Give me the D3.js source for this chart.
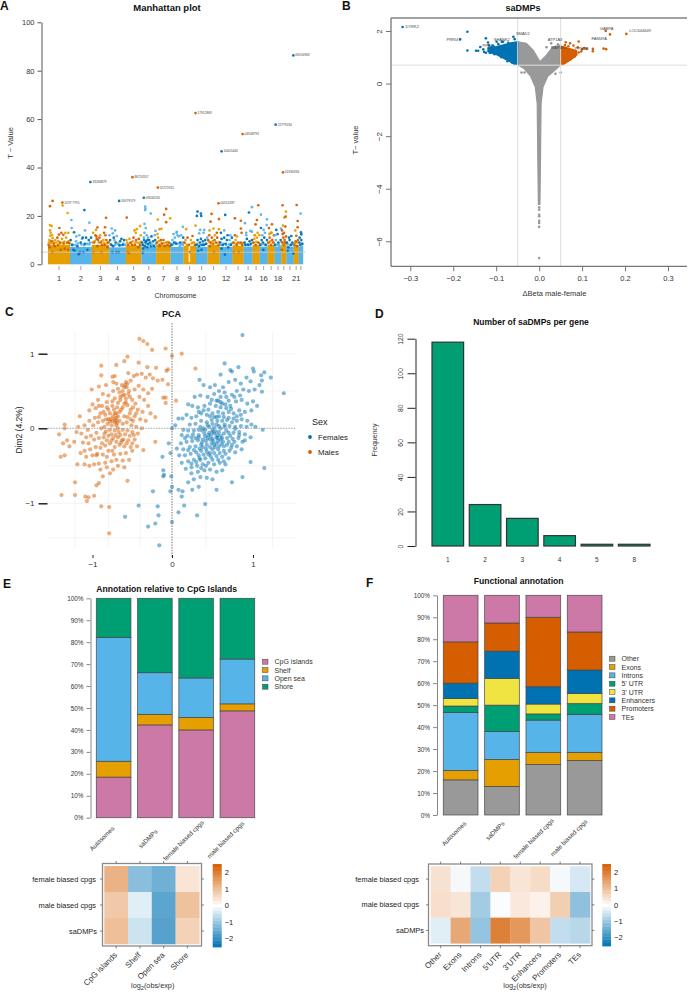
<!DOCTYPE html>
<html><head><meta charset="utf-8">
<script src="https://cdn.jsdelivr.net/npm/d3@7"></script>
<style>html,body{margin:0;background:#fff}svg{display:block}text{font-family:"Liberation Sans",Arial,sans-serif;fill:#222}</style>
</head><body><svg id="c" width="688" height="993"></svg>
<script>
// ---------- A: Manhattan ----------
const chromSizes=[66,65,52,50,47,44,43,39,37,35,36,39,33,27,21,24,21,20,15,22,15,13];
const chromLabels=['1','2','3','4','5','6','7','8','9','10','','12','','14','','16','','18','','','21',''];
const chromBandTop=[8,7.2,8,7,7.8,7.2,8,7.2,7.6,7.2,8,7.2,7.6,7.3,8,7.3,8,7.3,8.2,7.3,8,7.3];
const mhLabelled=[[43,25.5,1,'1597 7795'],[127,34,1,'33266879'],[213,26.2,1,'16979579'],[253,36,1,'86710557'],[287,27.5,1,'09034535'],[329,31.7,1,'05725915'],[442,62.5,1,'17912869'],[520,46.7,1,'10005440'],[511,25.2,1,'00516287'],[583,53.8,1,'04948793'],[682,57.7,1,'22779234'],[704,38,1,'01930936'],[735,86.3,1,'09016963']];
const mhPoints=[[6,24,1],[14,26.2,1],[44,24.3,0],[59,21.2,0],[6,16.2,0],[11,15.8,0],[34,15,1],[6,14,0],[8,13,0],[7,11.8,0],[12,12,0],[14,10.8,0],[40,13,1],[46,12.2,1],[52,13,0],[61,13,0],[4,10,0],[10,9.5,1],[17,8.5,1],[22,10,0],[28,11,1],[33,12.3,1],[36,9,1],[42,10.5,0],[47,8.5,1],[54,11,0],[58,9,1],[63,8.8,1],[2,8,1],[20,7.5,1],[30,8,1],[38,6,1],[50,6.5,1],[13,5,1],[5,7,1],[60,6,1],
[70,18.3,0],[109,22.4,1],[71,15,0],[124,17.2,0],[78,13.2,1],[94,12,0],[111,14,0],[68,10,1],[72,8,1],[76,6,1],[80,5.5,1],[84,9.5,0],[88,7.5,1],[92,4.2,1],[98,9,1],[102,10.5,0],[106,5,1],[110,8.5,1],[114,11,1],[118,8.5,0],[122,10,1],[126,9,0],[129,11,1],[85,11.5,0],[96,5,1],[118,6,1],[104,11,1],
[174,19.2,1],[148,15.2,1],[171,15.3,1],[144,14.2,0],[168,13,1],[135,13,0],[138,9,1],[142,12,1],[146,10.5,1],[150,10,1],[154,11,1],[158,9,1],[162,8,1],[166,10,0],[170,8,1],[175,10,1],[180,9,1],[136,5,1],[160,5,1],[148,7.5,1],[178,7,1],[145,11.5,1],[156,12,0],[172,12,1],
[191,14.8,0],[201,14,0],[194,12.8,0],[184,12,0],[206,11.7,0],[186,10,1],[190,8,1],[195,7.5,1],[199,10,0],[203,9,1],[208,8.5,0],[212,5,1],[216,9.5,1],[220,10.5,1],[224,8,1],[228,10,1],[231,8,0],[193,5,1],[205,5,1],[197,11,1],[214,7.8,1],
[236,19.3,1],[259,14,0],[266,14.5,0],[276,15.8,0],[263,13,0],[235,10,0],[238,5,1],[240,8,1],[244,10.5,0],[248,9,1],[252,8,1],[256,11,1],[260,8,1],[264,10,1],[268,9,0],[272,10.5,1],[276,8,1],[243,4.7,1],[270,7,1],[278,12,0],
[291,23.8,0],[292,23,0],[291,22.4,0],[308,21,0],[289,16.7,0],[293,15,0],[289,13,0],[322,13.8,0],[296,12,0],[320,12,0],[282,9,1],[285,8,1],[288,10,1],[290,7.5,1],[294,9.5,1],[297,7,1],[300,8.5,1],[303,10,1],[306,9,1],[309,7.5,1],[312,8,0],[315,9.5,1],[318,7.5,1],[321,10,1],[284,4.8,1],[287,11,0],[300,11,0],[310,11.5,1],[285,6.5,1],[298,10,1],[292,9,1],
[354,22.9,1],[348,20.5,1],[329,18.5,0],[354,17.4,1],[366,19,0],[340,14.7,0],[334,14.5,0],[326,9,1],[330,11,0],[334,8,1],[338,10,1],[342,8.5,1],[346,10,1],[350,7.5,1],[354,9,0],[358,8,1],[362,9,1],[365,7.5,1],[328,12.5,0],[335,7.5,1],
[404,15.5,0],[386,13.4,0],[370,8,1],[373,10,0],[376,12.5,0],[380,11,0],[384,8.5,1],[388,12,0],[392,11.5,0],[396,9,1],[399,12,0],[402,9,0],[405,11,1],[378,9,1],[395,7.5,0],[385,13,0],
[414,14.5,0],[418,11,1],[433,11.7,1],[442,16,0],[408,9,1],[412,10,0],[416,8,0],[422,8,1],[428,10,0],[434,9,0],[440,8,1],[425,5,1],
[448,21.8,1],[458,21,1],[446,20,1],[459,20,1],[456,14.2,0],[468,14.2,0],[453,12.8,0],[466,13,0],[445,8,1],[448,10,1],[452,7.5,1],[455,9,1],[458,10.5,1],[461,8,1],[464,9.5,1],[468,8,1],[471,10,1],[474,8.5,1],[477,11,0],[450,5.5,1],[460,6,1],
[490,20.8,1],[487,17.6,1],[512,18.7,1],[496,14.8,0],[512,14.5,0],[484,14,0],[506,13,1],[480,10,1],[483,12,1],[487,9,1],[491,11,1],[495,8.5,1],[499,10,1],[503,9,1],[507,11,1],[511,8,1],[485,7.5,1],[497,5,1],[500,12,0],[490,8,0],
[531,20.4,1],[518,13,1],[528,14,0],[546,12,0],[516,9,1],[520,10.5,1],[524,8,1],[528,11,1],[532,8.5,1],[536,10,1],[540,7,1],[544,10,0],[548,8,1],[551,11,1],[530,4,1],[520,6.5,1],[538,12,1],
[560,19,1],[578,18,1],[578,14.8,1],[580,13,1],[560,12,1],[566,11.5,0],[555,9,1],[558,7.5,0],[562,10,0],[566,8,1],[570,9,1],[574,7,0],[578,9,1],[582,8,1],[556,5,1],[572,5,1],
[611,23.6,0],[602,21.4,1],[590,17,0],[606,13.8,0],[611,13.5,0],[594,13,0],[589,9,1],[592,8,1],[596,10.5,1],[600,8,1],[604,9.5,1],[608,8.5,1],[611,10,1],[594,12,0],
[630,24.4,1],[626,18.3,1],[622,16.5,1],[628,13,0],[619,12,0],[615,9,1],[618,10.5,0],[622,8,1],[626,11,0],[630,9,1],[633,12,0],[620,12,0],
[638,20.5,0],[656,18.6,0],[638,15,1],[646,14.2,0],[655,16.2,0],[636,8,1],[640,10,1],[644,9,1],[648,11,1],[652,8,1],[656,10,1],[642,12,0],[650,13,0],[645,6,1],
[671,16.5,1],[662,15,1],[668,13,1],[660,9,1],[664,11,1],[668,8,1],[672,10,1],[676,9,1],[663,12.5,0],[670,13,0],[677,12,1],
[698,14.8,0],[684,14.2,1],[680,8,1],[683,10,0],[686,8,0],[690,9,1],[694,7.5,0],[697,10,1],[688,12.5,1],[681,12,0],
[703,24.4,1],[713,21.8,0],[708,19.3,0],[712,19.7,1],[711,15.6,1],[701,14,1],[703,12.5,1],[705,11,1],[707,13,1],[709,10,1],[711,9,1],[713,11.5,1],[702,9,1],[706,8,1],[710,7.5,0],[704,16,0],[701,6,1],
[729,11.7,1],[716,9,1],[720,7,1],[724,10,1],[728,8,1],[732,9,1],[735,4.5,1],[722,11,1],[718,5.5,1],
[745,24.5,1],[748,17.9,1],[748,15.3,1],[741,14,0],[744,11.8,1],[738,8,1],[742,9.5,1],[746,7.5,1],[749,10,1],
[757,21,0],[758,13.2,1],[759,12.4,1],[753,9,1],[756,8,1],[759,10,1],[762,8.5,1],[754,11,1],[760,7.5,0]];
const mhDense=[[3,9,0],[9,8.7,0],[15,9.5,0],[19,8.8,0],[25,9,0],[31,9.6,0],[37,8.6,0],[44,9,0],[49,9.4,0],[56,8.8,0],[62,9.6,0],[65,8.6,0],[74,8,0],[82,8,0],[90,8.6,0],[100,8.2,0],[108,7.9,0],[116,8.3,0],[124,8.2,0],[134,9,0],[140,9.6,0],[152,9,0],[160,9.5,0],[168,8.8,0],[177,8.7,0],[182,9.2,0],[188,8.3,0],[201,8,0],[211,8.4,0],[218,7.9,0],[226,8.6,0],[237,9,0],[246,8.7,0],[254,9.5,0],[262,9,0],[274,8.8,0],[279,9.3,0],[283,8,0],[295,8.3,0],[301,7.8,0],[307,8.2,0],[314,8,0],[323,8.4,0],[327,8.8,0],[332,9.6,0],[340,8.9,0],[348,8.7,0],[356,9.2,0],[363,8.8,0],[368,8.4,0],[375,8.2,0],[382,9,0],[390,8.6,0],[398,8.3,0],[404,8,0],[410,8.8,0],[430,8.6,0],[438,9,0],[447,8.4,0],[456,8,0],[466,8.2,0],[473,8.5,0],[482,9.4,0],[488,8.9,0],[494,9.6,0],[505,8.8,0],[513,9.2,0],[518,8,0],[526,8.5,0],[534,8,0],[543,8.2,0],[550,8.6,0],[557,8.8,0],[564,8.4,0],[576,8.6,0],[585,8.8,0],[590,8,0],[598,8.2,0],[606,8,0],[616,8.9,0],[624,9.3,0],[632,8.8,0],[639,8.2,0],[647,8.3,0],[654,8,0],[661,8.8,0],[666,9.5,0],[674,9,0],[682,8,0],[692,8.2,0],[700,9.2,0],[708,9,0],[712,8.6,0],[718,8.2,0],[726,8,0],[733,8.3,0],[740,8.7,0],[747,9,0],[755,8.1,0],[761,8.4,0]];

// ---------- B: volcano ----------
const volGreyOutline=[[-0.05,1.59],[-0.03,1.53],[-0.014,1.27],[0.002,0.83],[0.017,1.08],[0.032,1.40],[0.05,1.46],[0.05,0.72],[0.04,0.55],[0.02,0.28],[0.009,-0.13],[0.0045,-0.76],[0.003,-3],[0.0018,-4.6],[-0.0018,-4.6],[-0.003,-3],[-0.0045,-0.76],[-0.009,-0.13],[-0.02,0.28],[-0.034,0.55],[-0.05,0.72]];
const volBlueOutline=[[-0.05,1.59],[-0.076,1.5],[-0.099,1.4],[-0.119,1.36],[-0.119,1.22],[-0.099,1.1],[-0.076,0.91],[-0.06,0.76],[-0.05,0.72]];
const volOrangeOutline=[[0.05,1.42],[0.071,1.33],[0.087,1.25],[0.087,1.07],[0.071,0.89],[0.058,0.74],[0.05,0.72]];
const volGrey=[[-0.041,0.42],[-0.034,0.42],[0.05,0.42],[0.038,0.37],[0.028,1.53],[0.017,1.38],[0.044,1.49],[0.033,1.33],[0,-4.71],[0,-4.8],[0,-4.99],[0,-5.05],[0,-5.22],[0,-5.3],[0,-5.45],[0,-6.64]];
const volBlue=[[-0.318,2.15],[-0.167,1.97],[-0.184,1.68],[-0.167,1.26],[-0.147,1.25],[-0.142,1.25],[-0.137,1.39],[-0.124,1.72],[-0.119,1.56],[-0.117,1.46],[-0.124,1.17],[-0.115,1.17],[-0.099,1.59],[-0.087,1.59],[-0.084,1.59],[-0.06,1.78],[-0.057,1.69],[-0.105,1.4],[-0.11,1.3],[-0.101,1.2],[-0.094,1.13],[-0.09,1.35],[-0.085,1.05],[-0.079,1.47],[-0.078,0.95],[-0.072,1.55],[-0.07,0.9],[-0.066,1.52],[-0.063,0.8],[-0.058,0.76],[-0.112,1.38],[-0.108,1.45],[-0.095,1.5],[-0.13,1.3],[-0.128,1.2],[-0.104,1.12],[-0.112,1.18],[-0.088,1.0],[-0.074,0.85]];
const volOrange=[[0.155,2.0],[0.165,1.87],[0.203,1.89],[0.062,1.57],[0.072,1.53],[0.092,1.6],[0.08,1.45],[0.09,1.38],[0.105,1.35],[0.11,1.33],[0.125,1.32],[0.125,1.23],[0.15,1.33],[0.156,1.31],[0.098,1.22],[0.092,1.18],[0.086,1.12],[0.1,1.3],[0.083,1.03],[0.077,0.97],[0.073,0.92],[0.067,0.86],[0.06,0.79],[0.055,0.74],[0.06,1.47],[0.068,1.42]];
const volLabels=[['DYRK2',-0.318,2.15,'start'],['PRRI4',-0.202,1.68,'middle'],['SHANK2',-0.087,1.67,'middle'],['PPB1',-0.12,1.43,'middle'],['SMAD2',-0.038,1.9,'middle'],['ATP1A3',0.037,1.68,'middle'],['MAP4K4',0.046,1.37,'middle'],['PPM1A',0.099,1.32,'middle'],['GABPA',0.157,2.1,'middle'],['FAM49A',0.14,1.71,'middle'],['LOC644649',0.235,1.99,'middle']];

// ---------- C: PCA ----------
const pcaMales=[[-.41,1.20],[-.36,1.17],[-.31,1.13],[-.25,1.05],[-.08,1.07],[0,.97],[.12,1.0],[-.56,.96],[-.60,.90],[-.70,.85],[-.42,.88],[-.31,.82],[-.20,.81],[-.89,.84],[-.89,.71],[-.72,.70],[-.75,.69],[-1.01,.52],[-.92,.56],[-.83,.58],[.29,.80],[-.05,.79],[-.07,.77],[-.12,.65],[-.05,.59],[.05,.37],[-.11,.41],[-.08,.41],[-.08,.34],[-.21,.15],[-.21,-.18],[-.36,-.29],[-1.42,-.08],[-1.35,.05],[-1.35,0],[-1.16,.16],[-1.37,-.2],[-1.40,-.38],[-1.35,-.36],[-1.32,-.16],[-1.29,-.24],[-1.23,-.18],[-1.22,-.72],[-1.39,-.89],[-1.22,-.89],[-1.09,-.91],[-1.05,-.92],[-1.07,-.97],[-.98,-.90],[-.95,-.76],[-.92,-.73],[-.89,-1.04],[-.79,-1.05],[-.56,-.70],[-.79,-1.40],[-.87,-.64],[-1.19,-.48],[-1.10,-.48],
[-.55,.74],[-.48,.70],[-.44,.72],[-.38,.73],[-.33,.68],[-.28,.72],[-.24,.67],[-.18,.64],[-.52,.64],[-.58,.62],[-.63,.58],[-.57,.55],[-.68,.53],[-.74,.50],[-.62,.50],[-.55,.46],[-.47,.52],[-.42,.57],[-.36,.52],[-.30,.47],[-.25,.53],[-.41,.42],[-.35,.38],[-.50,.38],[-.58,.40],[-.65,.42],[-.72,.40],[-.80,.44],[-.87,.46],[-.93,.38],[-1.0,.32],[-1.04,.24],[-.96,.27],[-.88,.30],[-.82,.35],[-.75,.30],[-.68,.34],[-.62,.28],[-.56,.31],[-.49,.28],[-.43,.25],[-.37,.22],[-.30,.30],[-.27,.2],[-.33,.1],[-.4,.12],[-.47,.16],[-.53,.2],[-.6,.16],[-.66,.22],[-.72,.2],[-.78,.2],[-.84,.18],[-.9,.2],[-.97,.14],[-1.04,.1],[-1.1,.04],[-1.18,.02],[-1.06,-.02],[-.99,.04],[-.93,.08],[-.87,.1],[-.81,.06],[-.75,.1],[-.7,.1],[-.72,.08],[-.7,.04],[-.66,.1],[-.62,.06],[-.57,.08],[-.51,.04],[-.45,.02],[-.38,0],[-.43,-.07],[-.5,-.05],[-.56,-.03],[-.62,-.02],[-.67,-.05],[-.72,-.03],[-.78,-.02],[-.83,-.04],[-.89,0],[-.95,-.06],[-1.02,-.1],[-1.08,-.12],[-1.14,-.07],[-1.2,-.05],[-1.12,-.19],[-1.05,-.2],[-.98,-.15],[-.92,-.13],[-.86,-.12],[-.8,-.1],[-.74,-.13],[-.68,-.12],[-.61,-.15],[-.55,-.16],[-.47,-.15],[-.44,-.24],[-.52,-.25],[-.6,-.24],[-.66,-.22],[-.72,-.25],[-.78,-.2],[-.84,-.23],[-.9,-.26],[-.96,-.25],[-1.03,-.28],[-1.1,-.3],[-1.15,-.33],[-1.08,-.38],[-1.0,-.36],[-.94,-.34],[-.87,-.35],[-.8,-.3],[-.73,-.35],[-.65,-.34],[-.58,-.33],[-.5,-.3],[-.54,-.42],[-.62,-.43],[-.7,-.42],[-.76,-.44],[-.84,-.46],[-.92,-.47],[-.98,-.48],[-1.04,-.5],[-.9,-.55],[-.82,-.52],[-.74,-.55],[-.68,-.5],[-.6,-.52],[-.78,-.6],[-.63,-.16],[-.74,.62],[-.7,.6],[-.6,.45],[-.65,.38],[-.7,.14],[-.76,.04],[-.68,.0],[-.8,.12],[-.58,.35],[-.52,.12],[-.85,-.07],
[-.6,.55],[-.56,.6],[-.54,.5],[-.59,.58],[-.62,.44],[-.66,.48],[-.6,.33],[-.64,.25],[-.69,.28],[-.73,.25],[-.7,.2],[-.68,.16],[-.74,.16],[-.77,.13],[-.72,.12],[-.69,.07],[-.78,.09],[-.83,.12],[-.86,.22],[-.8,.25],[-.92,.15],[-.85,.02],[-.76,-.08],[-.71,-.09],[-.65,-.09],[-.59,-.08],[-.53,-.1],[-.48,-.09],[-.82,-.16],[-.88,-.2],[-.76,-.16],[-.7,-.18],[-.64,-.19],[-.57,-.2],[-.5,-.2],[-.95,-.36],[-.82,-.38],[-.75,-.3],[-.56,.15],[-.49,.1],[-.45,.2],[-.52,.25],[-.46,.33],[-.53,.42],[-.75,.36],[-.82,.28],[-.92,.3]];
const pcaFemales=[[.87,1.25],[.65,.87],[.72,.78],[.74,.76],[.82,.82],[1.0,.8],[1.01,.76],[1.22,.68],[1.14,.75],[1.10,.71],[1.11,.64],[1.08,.58],[1.38,.47],[1.11,.49],[.34,.65],[.39,.58],[.60,.72],[1.12,-.02],[1.03,.02],[.97,-.45],[1.14,-.53],[.87,-.65],[.74,-.72],[.55,-.82],[.41,-1.01],[.31,-1.16],[.08,-1.12],[.15,-1.03],[-.16,-1.56],[-.30,-1.31],[-.21,-1.27],[0,-1.25],[-.59,-1.18],[-.42,-1.03],[-.24,-.84],[-.18,-1.04],[-.17,-1.16],[-.02,-.84],[0,-.78],[-.01,-.64],[-.12,-.38],[-.04,-.2],[-.02,-.33],[-.11,-.56],[-.11,-.64],[-.10,-.62],[.04,.04],[0,0],[.08,.13],[.13,.13],[.08,-.82],[.13,-.84],[.12,-.91],
[.47,.55],[.53,.58],[.58,.5],[.63,.55],[.7,.62],[.78,.65],[.85,.6],[.92,.68],[.97,.63],[.88,.52],[.95,.5],[1.02,.52],[.8,.5],[.74,.45],[.67,.42],[.6,.42],[.52,.46],[.44,.42],[.35,.44],[.28,.42],[.2,.32],[.25,.3],[.32,.28],[.4,.3],[.47,.33],[.54,.3],[.6,.28],[.66,.32],[.72,.3],[.79,.36],[.86,.38],[.93,.33],[1.0,.36],[1.05,.3],[.98,.24],[.9,.22],[.83,.24],[.76,.2],[.7,.22],[.63,.2],[.57,.22],[.5,.2],[.43,.18],[.36,.2],[.3,.16],[.24,.14],[.18,.18],[.22,.05],[.29,.06],[.36,.1],[.43,.08],[.49,.11],[.56,.1],[.62,.1],[.68,.11],[.74,.08],[.8,.1],[.86,.12],[.93,.1],[.98,.05],[.92,.02],[.85,.03],[.78,.02],[.71,.03],[.65,.02],[.58,.03],[.52,.01],[.46,.02],[.39,.0],[.33,-.02],[.27,-.03],[.2,-.03],[.14,-.02],[.12,-.09],[.19,-.1],[.26,-.08],[.33,-.09],[.4,-.07],[.46,-.06],[.52,-.07],[.58,-.05],[.64,-.07],[.7,-.06],[.76,-.06],[.83,-.05],[.9,-.08],[.97,-.12],[.9,-.16],[.82,-.13],[.75,-.14],[.68,-.13],[.62,-.13],[.56,-.13],[.5,-.14],[.44,-.13],[.38,-.15],[.32,-.16],[.25,-.17],[.18,-.18],[.11,-.2],[.06,-.27],[.14,-.28],[.22,-.25],[.29,-.24],[.36,-.22],[.43,-.22],[.49,-.2],[.55,-.2],[.61,-.21],[.68,-.22],[.74,-.22],[.8,-.24],[.86,-.28],[.78,-.32],[.71,-.3],[.64,-.3],[.57,-.28],[.5,-.28],[.43,-.31],[.36,-.3],[.3,-.32],[.23,-.34],[.16,-.36],[.09,-.36],[.12,-.46],[.2,-.44],[.27,-.42],[.34,-.4],[.41,-.4],[.48,-.38],[.55,-.37],[.62,-.38],[.7,-.4],[.66,-.48],[.59,-.46],[.52,-.48],[.45,-.46],[.38,-.48],[.31,-.5],[.24,-.52],[.17,-.54],[.24,-.6],[.32,-.58],[.4,-.56],[.47,-.55],[.55,-.58],[.62,-.56],[.35,-.65],[.27,-.68],[.2,-.72],[.43,-.66],[.5,-.68],[.33,-.78],[.25,-.82],[.55,-.12],[.5,-.05],[.6,-.15],[.53,-.25],[.48,-.1],[.42,-.17],[.65,.05],[.55,.15],[.6,.35],[.37,-.03],[.47,-.33],
[.5,-.02],[.54,-.04],[.47,-.15],[.51,-.17],[.45,-.09],[.41,-.11],[.37,-.19],[.33,-.12],[.56,-.09],[.6,-.1],[.57,-.17],[.63,-.18],[.52,-.22],[.47,-.25],[.42,-.27],[.38,-.25],[.34,-.27],[.58,-.24],[.64,-.24],[.7,-.18],[.72,-.1],[.67,-.03],[.6,.0],[.55,.05],[.5,.06],[.44,.04],[.41,-.02],[.35,.02],[.7,.14],[.76,.13],[.64,.15],[.58,.16],[.52,.15],[.47,.16],[.8,.16],[.85,.18],[.73,.26],[.67,.27],[.62,.33],[.55,.37],[.49,.38],[.7,.37],[.77,.42],[.84,.44],[.65,.48],[.57,.37],[.45,.25],[.39,.24],[.33,.22],[.78,-.01],[.83,-.09],[.87,-.18],[.77,-.18],[.73,-.26],[.66,-.34],[.59,-.33],[.52,-.33],[.45,-.35],[.39,-.35],[.33,-.36],[.27,-.29],[.2,-.29],[.16,-.13],[.24,-.12],[.29,-.13],[.35,-.42],[.42,-.5],[.3,-.45],[.24,-.47],[.36,-.53],[.5,-.42],[.57,-.42],[.64,-.44]];

// ---------- D: bars ----------
const genesCats=['1','2','3','4','5','8'];
const genesFreq=[118,24,16,6,1,1];

// ---------- E / F: stacks & heatmaps ----------
const stackCats=['Autosomes','saDMPs','female biased cpgs','male biased cpgs'];
const cpgKeys=['CpG islands','Shelf','Open sea','Shore'];
const cpgColors=['#CC79A7','#E69F00','#56B4E9','#009E73'];
const cpgShares=[[18.5,7.2,56.5,17.8],[42.3,4.8,19,33.9],[40,5.7,18,36.3],[48.7,3.2,20.4,27.7]];
const funcKeys=['Other','Exons','Introns',"5' UTR","3' UTR",'Enhancers','Promoters','TEs'];
const funcColors=['#999999','#E69F00','#56B4E9','#009E73','#F0E442','#0072B2','#D55E00','#CC79A7'];
const funcShares=[[16,4.3,26.4,2.9,3.4,7,18.8,21.2],[13,12.3,12.7,12,12.2,12.4,12.8,12.6],[23,5.5,14.7,2.8,4.5,7.9,31.6,10],[24.8,3.7,17.3,4.9,4.6,10.7,17.3,16.7]];
const heatRows=['female biased cpgs','male biased cpgs','saDMPs'];
const cpgHeatCols=['CpG islands','Shelf','Open sea','Shore'];
const cpgHeat=[[1.2,-1.15,-1.4,.4],[.85,-.3,-1.6,.95],[1.0,-.5,-1.65,.7]];
const funcHeatCols=['Other','Exons','Introns',"5'UTR","3'UTR",'Enhancers','Promoters','TEs'];
const funcHeat=[[.45,-.1,-.6,.7,.4,.55,-.1,-.4],[.5,.4,-.9,-.05,.35,.2,.75,-1.1],[-.3,1.35,-1.05,1.95,1.6,.9,-.6,-.7]];
const colorbarTicks=[2,1,0,-1,-2];

// ---------- drawing ----------
const svg=d3.select('#c');
const minus=s=>String(s).replace('-','\u2212');
function txt(g,x,y,s,o={}){const t=g.append('text').attr('x',x).attr('y',y).attr('font-size',o.size||8).attr('text-anchor',o.anchor||'middle').text(s);
 if(o.bold)t.attr('font-weight','bold');if(o.fill)t.style('fill',o.fill);if(o.rot!=null)t.attr('transform',`rotate(${o.rot} ${x} ${y})`);return t;}
function styleAxis(g,o={}){g.selectAll('path.domain').attr('stroke',o.line||'#666').attr('stroke-width',o.w||1);g.selectAll('.tick line').attr('stroke',o.tick||o.line||'#666').attr('stroke-width',o.tw||o.w||1);g.selectAll('text').attr('font-size',o.size||7.5).attr('font-family','"Liberation Sans",Arial,sans-serif').style('fill',o.fill||'#333');}
const letters=[['A',0,10],['B',342,10],['C',5,316],['D',375,318],['E',3,588],['F',366,587]];
letters.forEach(l=>txt(svg,l[1],l[2],l[0],{size:12,bold:true,anchor:'start',fill:'#111'}));

// Panel A
(function(){
 const g=svg.append('g');
 const x=d3.scaleLinear().domain([0,d3.sum(chromSizes)]).range([48,303]);
 const y=d3.scaleLinear().domain([0,100]).range([264.3,22.3]);
 const starts=d3.cumsum([0,...chromSizes]);
 const hue=i=>i%2==0?['#E69F00','#D55E00']:['#56B4E9','#0072B2'];
 g.selectAll('rect.b').data(chromSizes).join('rect').attr('x',(d,i)=>x(starts[i])).attr('width',d=>x(d)-x(0)+.2).attr('y',(d,i)=>y(chromBandTop[i])).attr('height',(d,i)=>y(0)-y(chromBandTop[i])).attr('fill',(d,i)=>hue(i)[0]);
 const chrOf=p=>Math.min(d3.bisectRight(starts,p)-1,21);
 g.append('rect').attr('x',x(421)).attr('width',x(426)-x(421)).attr('y',y(7.8)).attr('height',y(1)-y(7.8)).attr('fill','#fff').attr('opacity',.75);
 const all=[...mhDense,...mhPoints,...mhLabelled];
 g.selectAll('circle.p').data(all).join('circle').attr('cx',d=>x(d[0])).attr('cy',d=>y(d[1])).attr('r',1.35).attr('fill',d=>hue(chrOf(d[0]))[d[2]]).attr('opacity',.95);
 g.append('line').attr('x1',41).attr('x2',306).attr('y1',y(5)).attr('y2',y(5)).attr('stroke','#ccc').attr('stroke-width',1).attr('opacity',.85);
 mhLabelled.forEach(d=>txt(g,x(d[0])+2,y(d[1])+1,d[3],{size:3.2,anchor:'start',fill:'#444'}));
 const ax=g.append('g').attr('transform','translate(41.5,0)').call(d3.axisLeft(y).tickValues([0,20,40,60,80,100]).tickSize(4).tickSizeOuter(0));
 styleAxis(ax,{line:'#555',size:7.5});
 const cent=chromSizes.map((d,i)=>x(starts[i]+d/2));
 cent.forEach((c,i)=>{g.append('line').attr('x1',c).attr('x2',c).attr('y1',266).attr('y2',270).attr('stroke','#888').attr('stroke-width',.8);
  if(chromLabels[i])txt(g,c,281,chromLabels[i],{size:7.5,fill:'#333'});});
 txt(g,13,143,'T \u2212 Value',{size:7.5,rot:-90,fill:'#333'});
 txt(g,175.5,298,'Chromosome',{size:7,fill:'#333'});
 txt(g,167,10.5,'Manhattan plot',{size:9.5,bold:true,fill:'#111'});
})();

// Panel B
(function(){
 const g=svg.append('g');
 const x=d3.scaleLinear().domain([-.3,.3]).range([410.3,668]);
 const y=d3.scaleLinear().domain([2,-6]).range([31,241.3]);
 const line=d3.line().x(d=>x(d[0])).y(d=>y(d[1])).curve(d3.curveLinearClosed);
 g.append('path').attr('d',line(volGreyOutline)).attr('fill','#999').attr('stroke','#999').attr('stroke-width',1.2);
 g.append('path').attr('d',line(volBlueOutline)).attr('fill','#0072B2').attr('stroke','#0072B2').attr('stroke-width',1.5);
 g.append('path').attr('d',line(volOrangeOutline)).attr('fill','#D55E00').attr('stroke','#D55E00').attr('stroke-width',1.5);
 [[volGrey,'#999'],[volBlue,'#0072B2'],[volOrange,'#D55E00']].forEach(([a,c])=>g.append('g').selectAll('circle').data(a).join('circle').attr('cx',d=>x(d[0])).attr('cy',d=>y(d[1])).attr('r',1.3).attr('fill',c));
 g.append('line').attr('x1',391).attr('x2',687).attr('y1',y(.7)).attr('y2',y(.7)).attr('stroke','#ddd');
 [-.05,.05].forEach(v=>g.append('line').attr('x1',x(v)).attr('x2',x(v)).attr('y1',18).attr('y2',266).attr('stroke','#ddd'));
 volLabels.forEach(d=>txt(g,x(d[1])+(d[3]=='start'?3:0),y(d[2])+1.2,d[0],{size:4,anchor:d[3],fill:'#444'}));
 g.append('path').attr('d','M391,18H687').attr('stroke','#444').attr('fill','none');
 const l=g.append('g').attr('transform','translate(391,0)').call(d3.axisLeft(y).tickValues([2,0,-2,-4,-6]).tickSize(5).tickSizeOuter(0).tickFormat(minus));
 l.select('path.domain').attr('d','M0,18V266.3');
 styleAxis(l,{line:'#777',tick:'#666',w:1.3,tw:.9,size:8});
 l.selectAll('text').attr('transform','rotate(-90) translate(0,-1)').attr('x',0).attr('y',-8).attr('dy',0).attr('text-anchor','middle');
 const b=g.append('g').attr('transform','translate(0,266.3)').call(d3.axisBottom(x).tickValues([-.3,-.2,-.1,0,.1,.2,.3]).tickSize(5).tickSizeOuter(0).tickFormat(d=>minus(d.toFixed(1))));
 b.select('path.domain').attr('d','M391,0H687');
 styleAxis(b,{line:'#555',tick:'#666',tw:.9,size:7.5});
 b.selectAll('text').attr('y',9.5);
 txt(g,358,140,'T\u2212 value',{size:7.5,rot:-90,fill:'#333'});
 txt(g,554.5,296,'\u0394Beta male-female',{size:7.5,fill:'#333'});
 txt(g,523,10.5,'saDMPs',{size:9,bold:true,fill:'#111'});
})();

// Panel C
(function(){
 const g=svg.append('g');
 const x=d3.scaleLinear().domain([-1,0,1]).range([92.5,172,253]);
 const y=d3.scaleLinear().domain([1,0,-1]).range([353.7,428.3,503.3]);
 const L=48,R=295,T=332,B=548;
 [-1.22,-.8,-.4,.42,1.24].forEach(v=>g.append('line').attr('x1',x(v)).attr('x2',x(v)).attr('y1',T).attr('y2',B).attr('stroke','#f1f1f1').attr('stroke-width',.8));
 [1,.5,-.5,-1,-1.46].forEach(v=>g.append('line').attr('x1',L).attr('x2',R).attr('y1',y(v)).attr('y2',y(v)).attr('stroke','#f1f1f1').attr('stroke-width',.8));
 g.append('g').selectAll('circle').data(pcaMales).join('circle').attr('cx',d=>x(d[0])).attr('cy',d=>y(d[1])).attr('r',2.1).attr('fill','#D55E00').attr('opacity',.5);
 g.append('g').selectAll('circle').data(pcaFemales).join('circle').attr('cx',d=>x(d[0])).attr('cy',d=>y(d[1])).attr('r',2.1).attr('fill','#0072B2').attr('opacity',.5);
 g.append('line').attr('x1',L).attr('x2',R).attr('y1',y(0)).attr('y2',y(0)).attr('stroke','#999').attr('stroke-dasharray','1.5 1.2').attr('stroke-width',.9);
 g.append('line').attr('x1',x(0)).attr('x2',x(0)).attr('y1',323).attr('y2',557).attr('stroke','#555').attr('stroke-dasharray','1.5 1.2').attr('stroke-width',.8);
 const l=g.append('g').attr('transform','translate(47.5,0)').call(d3.axisLeft(y).tickValues([1,0,-1]).tickSize(9).tickSizeOuter(0).tickFormat(minus));
 l.select('path.domain').remove();styleAxis(l,{line:'#111',w:1.4,size:8});l.selectAll('text').attr('x',-13);
 const b=g.append('g').attr('transform','translate(0,555)').call(d3.axisBottom(x).tickValues([-1,0,1]).tickSize(3).tickSizeOuter(0).tickFormat(minus));
 b.select('path.domain').remove();styleAxis(b,{line:'#222',w:1,size:8});b.selectAll('text').attr('y',6);
 txt(g,22,430,'Dim2 (4.2%)',{size:8.5,rot:-90,fill:'#222'});
 txt(g,312,425,'Sex',{size:9,anchor:'start',fill:'#222'});
 [['Females','#0072B2',437],['Males','#D55E00',452]].forEach(d=>{g.append('circle').attr('cx',310).attr('cy',d[2]).attr('r',1.9).attr('fill',d[1]);txt(g,318,d[2]+2.7,d[0],{size:7.8,anchor:'start',fill:'#222'});});
 txt(g,171.5,317,'PCA',{size:9,bold:true,fill:'#111'});
})();

// Panel D
(function(){
 const g=svg.append('g');
 const x=d3.scaleBand().domain(genesCats).range([432,650]).paddingInner(.152).paddingOuter(0);
 const y=d3.scaleLinear().domain([0,120]).range([546,338.7]);
 g.selectAll('rect').data(genesFreq).join('rect').attr('x',(d,i)=>x(genesCats[i])).attr('width',x.bandwidth()).attr('y',d=>y(d)).attr('height',d=>y(0)-y(d)).attr('fill','#009E73').attr('stroke','#333').attr('stroke-width',1.2);
 const l=g.append('g').attr('transform','translate(415.5,0)').call(d3.axisLeft(y).tickValues([0,20,40,60,80,100,120]).tickSize(8).tickSizeOuter(0));
 styleAxis(l,{line:'#222',w:1,size:6.8});
 l.selectAll('text').attr('transform','rotate(-90)').attr('x',0).attr('y',-13).attr('dy',0).attr('text-anchor','middle');
 x.domain().forEach(c=>txt(g,x(c)+x.bandwidth()/2,561.5,c,{size:6.5,fill:'#333'}));
 txt(g,377,440,'Frequency',{size:7,rot:-90,fill:'#333'});
 txt(g,531,324.5,'Number of saDMPs per gene',{size:8.5,bold:true,fill:'#111'});
})();

// Stacks
function stackPanel(o){
 const g=svg.append('g');
 const x=d3.scaleBand().domain(stackCats).range(o.xr).paddingInner(.16).paddingOuter(0);
 const y=d3.scaleLinear().domain([0,100]).range(o.yr);
 const rows=o.shares.map((r,i)=>Object.assign({cat:stackCats[i]},Object.fromEntries(o.keys.map((k,j)=>[k,r[j]]))));
 const ser=d3.stack().keys(o.keys)(rows);
 ser.forEach((s,i)=>g.append('g').selectAll('rect').data(s).join('rect').attr('x',d=>x(d.data.cat)).attr('width',x.bandwidth()).attr('y',d=>y(d[1])).attr('height',d=>y(d[0])-y(d[1])).attr('fill',o.colors[i]).attr('stroke','#444').attr('stroke-opacity',.85).attr('stroke-width',.8));
 const a=g.append('g').attr('transform',`translate(${o.axisX},0)`).call(d3.axisLeft(y).tickValues(d3.range(0,101,10)).tickSize(4).tickSizeOuter(0).tickFormat(d=>d+'%'));
 styleAxis(a,{line:'#888',size:6.4,fill:'#333'});
 stackCats.forEach((c,i)=>{const xx=x(c)+x.bandwidth()/2+o.labOff[i][0],yy=o.labOff[i][1];txt(g,xx,yy,c,{size:6.3,anchor:'end',rot:-45,fill:'#333'});});
 o.keys.forEach((k,i)=>{const yy=o.legY+i*8.33;g.append('rect').attr('x',o.legX).attr('y',yy-2.5).attr('width',5.5).attr('height',5).attr('fill',o.colors[i]).attr('stroke','#444').attr('stroke-width',.5);txt(g,o.legX+12,yy+2.5,k,{size:7,anchor:'start',fill:'#333'});});
 txt(g,o.tx,o.ty,o.title,{size:8.6,bold:true,fill:'#111'});
}
stackPanel({xr:[96.3,254.7],yr:[817.7,598.3],axisX:90.5,shares:cpgShares,keys:cpgKeys,colors:cpgColors,legX:262.5,legY:661.7,title:'Annotation relative to CpG Islands',tx:166.7,ty:592,labOff:[[1,829],[3,832],[8,823],[7,824]]});
stackPanel({xr:[443.3,602],yr:[815,595.3],axisX:437,shares:funcShares,keys:funcKeys,colors:funcColors,legX:609.5,legY:658.7,title:'Functional annotation',tx:518.7,ty:584,labOff:[[6,824],[3,824],[11,821],[3,822]]});

// Heatmaps
const heatColor=d3.scaleLinear().domain([-2.5,0,2.5]).range(['#0072B2','#ffffff','#D55E00']);
function heatPanel(o){
 const g=svg.append('g');
 const x=d3.scaleBand().domain(o.cols).range(o.cx);
 const y=d3.scaleBand().domain(heatRows).range(o.cy);
 o.data.forEach((r,i)=>g.append('g').selectAll('rect').data(r).join('rect').attr('x',(d,j)=>x(o.cols[j])).attr('y',y(heatRows[i])).attr('width',x.bandwidth()+.3).attr('height',y.bandwidth()+.3).attr('fill',d=>heatColor(d)));
 g.append('rect').attr('x',o.fx[0]).attr('y',o.fy[0]).attr('width',o.fx[1]-o.fx[0]).attr('height',o.fy[1]-o.fy[0]).attr('fill','none').attr('stroke','#8a8a8a').attr('stroke-width',1.3);
 const tk='#555';
 o.cols.forEach(c=>{const cx=x(c)+x.bandwidth()/2;
  [[o.fy[0],o.fy[0]-2.5],[o.fy[1],o.fy[1]+2.5]].forEach(p=>g.append('line').attr('x1',cx).attr('x2',cx).attr('y1',p[0]).attr('y2',p[1]).attr('stroke',tk).attr('stroke-width',.7));
  txt(g,cx+1.5,o.fy[1]+9.5,c,{size:8,anchor:'end',rot:-45,fill:'#333'});});
 heatRows.forEach((c,i)=>{const cy=y(c)+y.bandwidth()/2;
  [[o.fx[0],o.fx[0]-2.5],[o.fx[1],o.fx[1]+2.5]].forEach(p=>g.append('line').attr('x1',p[0]).attr('x2',p[1]).attr('y1',cy).attr('y2',cy).attr('stroke',tk).attr('stroke-width',.7));
  txt(g,o.lx[i],cy+2.5,c,{size:7.4,anchor:'end',fill:'#222'});});
 const cs=d3.scaleLinear().domain([2.5,-2.5]).range(o.by);
 const steps=d3.range(-2.5,2.5,.2);
 g.append('g').selectAll('rect').data(steps).join('rect').attr('x',o.bx[0]).attr('width',o.bx[1]-o.bx[0]).attr('y',d=>cs(d+.2)).attr('height',d=>cs(d)-cs(d+.2)+.4).attr('fill',d=>heatColor(d+.1));
 colorbarTicks.forEach(v=>{txt(g,o.bx[1]+3,cs(v)+2.6,minus(v),{size:7.5,anchor:'start',fill:'#222'});});
 const t=txt(g,o.xl,988,'',{size:7.3,fill:'#333'});
 t.append('tspan').text('log');t.append('tspan').attr('dy',2).attr('font-size',5.6).text('2');t.append('tspan').attr('dy',-2).text('(obs/exp)');
}
heatPanel({cols:cpgHeatCols,data:cpgHeat,cx:[104.3,199.3],cy:[866,944],fx:[102.5,201.5],fy:[863.5,946],lx:[96,96,97],bx:[212.7,221.7],by:[864,947],xl:152.7});
heatPanel({cols:funcHeatCols,data:funcHeat,cx:[430.7,590],cy:[866.3,943.3],fx:[428.5,592],fy:[864,945.7],lx:[419,419,424],bx:[602.3,611],by:[864,946],xl:525});
</script></body></html>
